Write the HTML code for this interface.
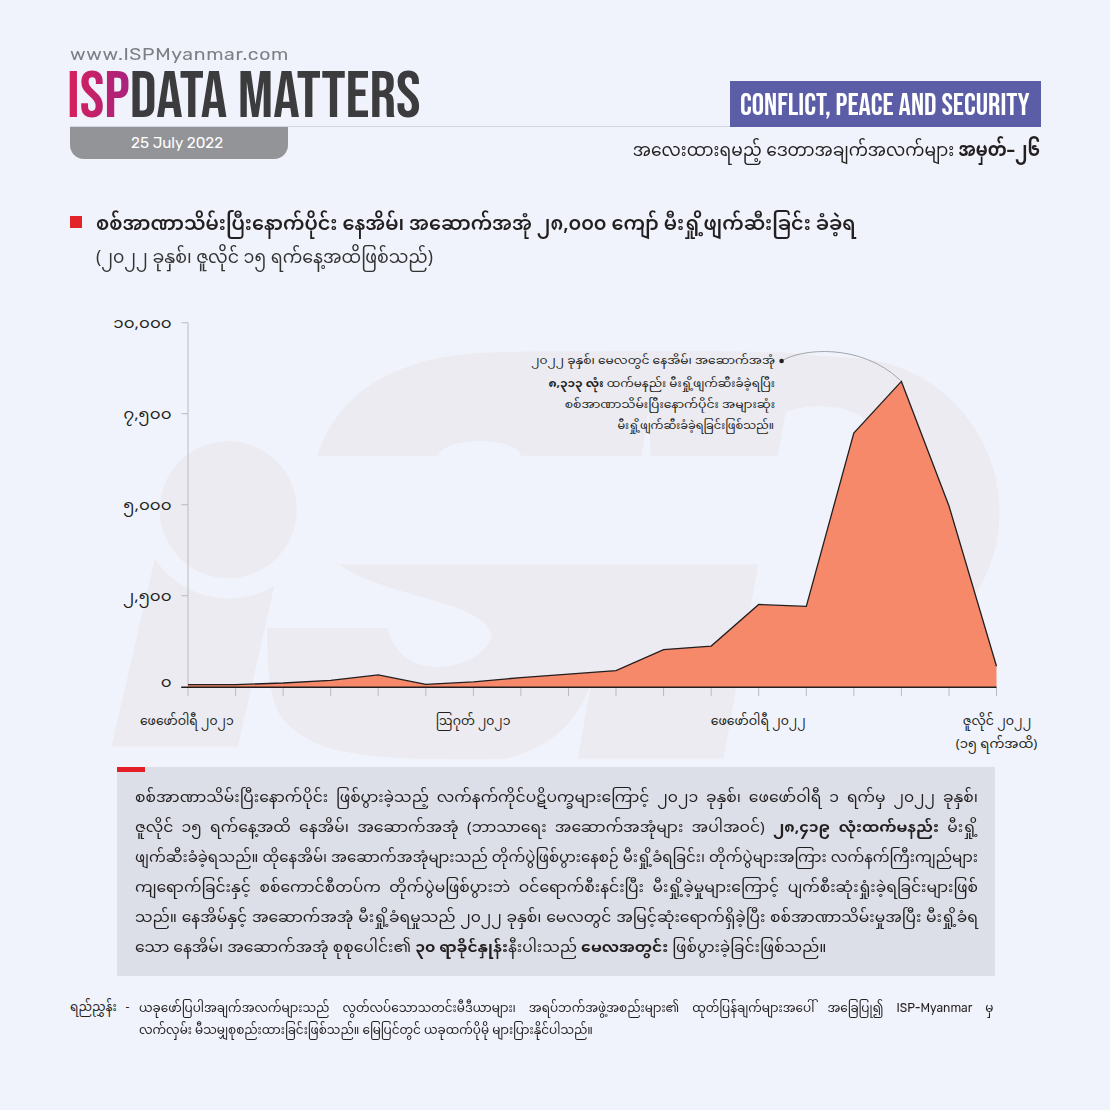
<!DOCTYPE html>
<html lang="my">
<head>
<meta charset="utf-8">
<title>ISP Data Matters</title>
<style>
html,body{margin:0;padding:0;}
body{width:1110px;height:1110px;overflow:hidden;background:#f0f3fb;position:relative;
  font-family:"Noto Sans Myanmar","Noto Sans Myanmar UI","Padauk","Liberation Sans",sans-serif;color:#231f20;}
.abs{position:absolute;white-space:nowrap;}
.mm{font-family:"Noto Sans Myanmar","Noto Sans Myanmar UI","Padauk","Liberation Sans",sans-serif;}
#www{left:70px;top:44px;font-family:"Rubik","Liberation Sans",sans-serif;font-weight:400;font-size:17.5px;color:#7d7f84;letter-spacing:0.6px;transform:scaleX(1.11);transform-origin:left center;}
#dm{left:67px;top:63.2px;font-family:"Bebas Neue","Oswald","Liberation Sans Narrow","Liberation Sans",sans-serif;font-size:66px;line-height:70px;color:#3c3c3e;}
#dm .isp{background:linear-gradient(90deg,#d71f5b 0%,#a8237e 100%);-webkit-background-clip:text;background-clip:text;color:transparent;}
#hline{left:70px;top:126px;width:970px;height:1px;background:#d3d6de;}
#pill{left:70px;top:127px;width:218px;height:32px;background:#939498;border-radius:0 0 14px 14px;}
#date{left:131px;top:134px;font-family:"Rubik","Liberation Sans",sans-serif;font-size:15.2px;font-weight:400;color:#fff;}
#cps{left:730px;top:81px;width:311px;height:46px;background:#5b5da7;}
#cpst{left:739.6px;top:86.3px;font-family:"Bebas Neue","Oswald","Liberation Sans Narrow","Liberation Sans",sans-serif;font-size:31px;line-height:40px;color:#fff;transform:scaleX(0.99);transform-origin:left center;}
#sub{right:69.5px;top:138px;font-size:18.9px;line-height:28px;color:#231f20;transform:scaleX(0.903);transform-origin:right center;}
#sq{left:69.5px;top:216px;width:12px;height:12px;background:#e3232a;}
#title{left:96px;top:209.8px;font-size:19.3px;font-weight:600;line-height:32px;transform:scaleX(0.997);transform-origin:left center;}
#title2{left:96px;top:244px;font-size:17.9px;line-height:30px;color:#333;transform:scaleX(0.974);transform-origin:left center;}
#box{left:117px;top:767px;width:877.5px;height:209px;background:#dcdfe7;}
#bar{left:117px;top:767px;width:28px;height:5px;background:#e31e26;}
#para{left:135px;top:784.1px;width:840px;font-size:14.6px;line-height:30px;color:#231f20;}
.pl,.fl{text-align:justify;text-align-last:justify;white-space:nowrap;}
.pl.last,.fl.last{text-align:left;text-align-last:left;}
#flab{left:70px;top:998px;font-size:12.2px;line-height:21.5px;}
#foot{left:138.5px;top:998px;width:852px;font-size:12.2px;line-height:21.5px;color:#231f20;}
.pl,.fl{transform-origin:left center;}
#dash{left:125.5px;top:998px;font-size:12.2px;line-height:21.5px;}
.lat{font-family:"Rubik","Liberation Sans",sans-serif;}
</style>
</head>
<body>
<svg class="abs" id="wm" style="left:0;top:0" width="1110" height="1110" viewBox="0 0 1110 1110">
<g fill="#ecebf1">
<circle cx="228.2" cy="509.8" r="68.5"/>
<path d="M154.9,558.7A88,88 0 0 0 274.3,585.7L238,746.5L111.5,746.5Z"/>
<path d="M317.2,455.7C326,428 343,405 365.7,388.1C395,368 430,357 466.6,354C500,351.5 540,351.3 567.5,351.3L700,350.8L781.6,352.4C810,354 830,357 845,357.5A154.5,154.5 0 0 1 999.5,512A154.5,154.5 0 0 1 845,666.5L740,667L723.4,758.5L579.5,758.5C540,759 480,759.5 437,759C400,759 365,756 335,750C307,742 288,728 278.8,713C270,695 266,668 267.3,628L388,628C392,650 410,667 437,667C465,667 488,652 492,635L486,624C475,616 465,610 452,606L394,589C370,581 350,573 339,564.5L317.2,564.5Z"/>
</g>
<g fill="#f0f3fb">
<path d="M300,455.7L777.9,455.7L785.8,412C800,406 820,405 840,408C870,415 893,440 903,480C908,510 905,545 893,572C878,600 850,618 820,623C795,627 770,626 748.3,620L758.3,564.5L300,564.5Z"/>
<ellipse cx="479.8" cy="455.7" rx="41" ry="14.6"/>
<path d="M641.5,456L650.5,456L649,406Z"/>
<path d="M591,684L577.5,760L500,760C525,755 550,743 566,726C577,714 585,700 591,684Z"/>
</g>
</svg>
<div class="abs" id="www">www.ISPMyanmar.com</div>
<div class="abs" id="dm"><span class="isp">ISP</span>DATA MATTERS</div>
<div class="abs" id="hline"></div>
<div class="abs" id="pill"></div>
<div class="abs" id="date">25 July 2022</div>
<div class="abs" id="cps"></div>
<div class="abs" id="cpst">CONFLICT, PEACE AND SECURITY</div>
<div class="abs mm" id="sub">အလေးထားရမည့် ဒေတာအချက်အလက်များ <b>အမှတ်–၂၆</b></div>

<div class="abs" id="sq"></div>
<div class="abs mm" id="title">စစ်အာဏာသိမ်းပြီးနောက်ပိုင်း နေအိမ်၊ အဆောက်အအုံ ၂၈,၀၀၀ ကျော် မီးရှို့ဖျက်ဆီးခြင်း ခံခဲ့ရ</div>
<div class="abs mm" id="title2">(၂၀၂၂ ခုနှစ်၊ ဇူလိုင် ၁၅ ရက်နေ့အထိဖြစ်သည်)</div>

<svg class="abs" id="chart" style="left:0;top:0" width="1110" height="1110" viewBox="0 0 1110 1110">
<g stroke="#b9bbc2" stroke-width="1" fill="none">
<path d="M188,322.7V687"/>
<path d="M181.5,322.7H188M181.5,413.7H188M181.5,504.7H188M181.5,595.7H188"/>
<path d="M188.0,687V696 M235.6,687V696 M283.1,687V696 M330.7,687V696 M378.2,687V696 M425.8,687V696 M473.4,687V696 M520.9,687V696 M568.5,687V696 M616.0,687V696 M663.6,687V696 M711.2,687V696 M758.7,687V696 M806.3,687V696 M853.8,687V696 M901.4,687V696 M949.0,687V696 M996.5,687V696"/>
</g>
<polygon fill="#f6896a" points="188.0,687 188.0,684.6 235.6,684.6 283.1,683.0 330.7,680.3 378.2,674.9 425.8,684.3 473.4,681.9 520.9,677.6 568.5,674.1 616.0,670.6 663.6,649.6 711.2,646.1 758.7,604.5 806.3,606.4 853.8,433.0 901.4,381.4 949.0,506.0 996.5,666.3 996.5,687"/>
<polyline fill="none" stroke="#231f20" stroke-width="1.3" stroke-linejoin="miter" points="188.0,684.6 235.6,684.6 283.1,683.0 330.7,680.3 378.2,674.9 425.8,684.3 473.4,681.9 520.9,677.6 568.5,674.1 616.0,670.6 663.6,649.6 711.2,646.1 758.7,604.5 806.3,606.4 853.8,433.0 901.4,381.4 949.0,506.0 996.5,666.3"/>
<path d="M181.2,687.2H996.5" stroke="#231f20" stroke-width="1.4"/>
<path d="M781.6,361C800,349 860,342 900.5,380.4" fill="none" stroke="#9b9ca3" stroke-width="0.9"/>
<circle cx="781.6" cy="361" r="2.3" fill="#231f20"/>
<g font-family="Noto Sans Myanmar, Padauk, Liberation Sans, sans-serif" font-size="14.8" fill="#231f20" text-anchor="end">
<text x="171.6" y="327.7" transform="matrix(1.125,0,0,1,-21.45,0)">၁၀,၀၀၀</text>
<text x="171.6" y="418.7" transform="matrix(1.125,0,0,1,-21.45,0)">၇,၅၀၀</text>
<text x="171.6" y="509.7" transform="matrix(1.125,0,0,1,-21.45,0)">၅,၀၀၀</text>
<text x="171.6" y="600.7" transform="matrix(1.125,0,0,1,-21.45,0)">၂,၅၀၀</text>
<text x="171.6" y="686.7" transform="matrix(1.125,0,0,1,-21.45,0)">၀</text>
</g>
<g font-family="Noto Sans Myanmar, Padauk, Liberation Sans, sans-serif" font-size="13" fill="#231f20" text-anchor="middle">
<text x="186.8" y="725.4" transform="matrix(0.956,0,0,1,8.22,0)">ဖေဖော်ဝါရီ ၂၀၂၁</text>
<text x="473.1" y="725.4" transform="matrix(0.950,0,0,1,23.66,0)">ဩဂုတ် ၂၀၂၁</text>
<text x="758.2" y="725.4" transform="matrix(0.960,0,0,1,30.33,0)">ဖေဖော်ဝါရီ ၂၀၂၂</text>
<text x="997.0" y="725.4" transform="matrix(0.976,0,0,1,23.93,0)">ဇူလိုင် ၂၀၂၂</text>
<text x="996.5" y="748.4" transform="matrix(1.017,0,0,1,-16.94,0)">(၁၅ ရက်အထိ)</text>
</g>
<g font-family="Noto Sans Myanmar, Padauk, Liberation Sans, sans-serif" font-size="11.2" fill="#231f20" text-anchor="end">
<text x="775" y="363.9" transform="matrix(1.095,0,0,1,-73.62,0)">၂၀၂၂ ခုနှစ်၊ မေလတွင် နေအိမ်၊ အဆောက်အအုံ</text>
<text x="775" y="386.9" transform="matrix(1.073,0,0,1,-56.57,0)"><tspan font-weight="700">၈,၃၁၃ လုံး</tspan> ထက်မနည်း မီးရှို့ဖျက်ဆီးခံခဲ့ရပြီး</text>
<text x="775" y="407.6" transform="matrix(1.109,0,0,1,-84.47,0)">စစ်အာဏာသိမ်းပြီးနောက်ပိုင်း အများဆုံး</text>
<text x="774" y="428.8" transform="matrix(1.020,0,0,1,-15.48,0)">မီးရှို့ဖျက်ဆီးခံခဲ့ရခြင်းဖြစ်သည်။</text>
</g>
</svg>

<div class="abs" id="box"></div>
<div class="abs" id="bar"></div>
<div class="abs mm" id="para">
<div style="width:790.8px;transform:scaleX(1.066)" class="pl">စစ်အာဏာသိမ်းပြီးနောက်ပိုင်း ဖြစ်ပွားခဲ့သည့် လက်နက်ကိုင်ပဋိပက္ခများကြောင့် ၂၀၂၁ ခုနှစ်၊ ဖေဖော်ဝါရီ ၁ ရက်မှ ၂၀၂၂ ခုနှစ်၊</div>
<div style="width:790.8px;transform:scaleX(1.066)" class="pl">ဇူလိုင် ၁၅ ရက်နေ့အထိ နေအိမ်၊ အဆောက်အအုံ (ဘာသာရေး အဆောက်အအုံများ အပါအဝင်) <b>၂၈,၄၁၉ လုံးထက်မနည်း</b> မီးရှို့</div>
<div style="width:824.0px;transform:scaleX(1.023)" class="pl">ဖျက်ဆီးခံခဲ့ရသည်။ ထိုနေအိမ်၊ အဆောက်အအုံများသည် တိုက်ပွဲဖြစ်ပွားနေစဉ် မီးရှို့ခံရခြင်း၊ တိုက်ပွဲများအကြား လက်နက်ကြီးကျည်များ</div>
<div style="width:790.8px;transform:scaleX(1.066)" class="pl">ကျရောက်ခြင်းနှင့် စစ်ကောင်စီတပ်က တိုက်ပွဲမဖြစ်ပွားဘဲ ဝင်ရောက်စီးနင်းပြီး မီးရှို့ခဲ့မှုများကြောင့် ပျက်စီးဆုံးရှုံးခဲ့ရခြင်းများဖြစ်</div>
<div style="width:790.8px;transform:scaleX(1.066)" class="pl">သည်။ နေအိမ်နှင့် အဆောက်အအုံ မီးရှို့ခံရမှုသည် ၂၀၂၂ ခုနှစ်၊ မေလတွင် အမြင့်ဆုံးရောက်ရှိခဲ့ပြီး စစ်အာဏာသိမ်းမှုအပြီး မီးရှို့ခံရ</div>
<div style="width:790.8px;transform:scaleX(1.066)" class="pl last">သော နေအိမ်၊ အဆောက်အအုံ စုစုပေါင်း၏ <b>၃၀ ရာခိုင်နှုန်း</b>နီးပါးသည် <b>မေလအတွင်း</b> ဖြစ်ပွားခဲ့ခြင်းဖြစ်သည်။</div>
</div>

<div class="abs mm" id="flab">ရည်ညွှန်း</div><div class="abs mm" id="dash">-</div>
<div class="abs mm" id="foot">
<div style="width:864.9px;transform:scaleX(0.988)" class="fl">ယခုဖော်ပြပါအချက်အလက်များသည် လွတ်လပ်သောသတင်းမီဒီယာများ၊ အရပ်ဘက်အဖွဲ့အစည်းများ၏ ထုတ်ပြန်ချက်များအပေါ် အခြေပြု၍ <span class="lat">ISP-Myanmar</span> မှ</div>
<div style="width:864.9px;transform:scaleX(0.988)" class="fl last">လက်လှမ်း မီသမျှစုစည်းထားခြင်းဖြစ်သည်။ မြေပြင်တွင် ယခုထက်ပိုမို များပြားနိုင်ပါသည်။</div>
</div>
</body>
</html>
